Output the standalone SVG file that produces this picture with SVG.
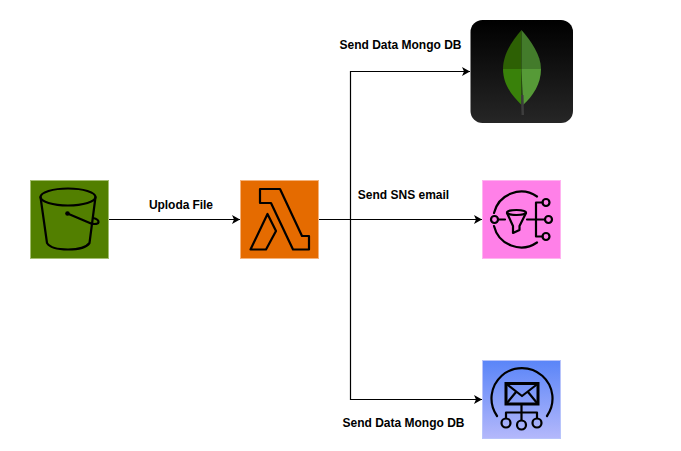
<svg xmlns="http://www.w3.org/2000/svg" width="681" height="451" viewBox="0 0 681 451">
<style>
.lbl{font-family:"Liberation Sans",Arial,sans-serif;font-size:12px;font-weight:bold;fill:#000}
.ic{fill:none;stroke:#000;stroke-width:2.200;stroke-linejoin:round;stroke-linecap:round}
.con{fill:none;stroke:#000;stroke-width:1.200}
</style>
<defs>
<marker id="arr" markerUnits="userSpaceOnUse" markerWidth="10" markerHeight="10" refX="8" refY="4.500" orient="auto"><path d="M0 0L8 4.500L0 9L2 4.500Z" fill="#000"/></marker>
<linearGradient id="mg" x1="0" y1="0" x2="0" y2="1"><stop offset="0" stop-color="#000"/><stop offset="1" stop-color="#262626"/></linearGradient>
<linearGradient id="bl" x1="0" y1="0" x2="0" y2="1"><stop offset="0" stop-color="#5a85f8"/><stop offset="1" stop-color="#b4b8fb"/></linearGradient>
</defs>
<g id="connectors">
<path class="con" marker-end="url(#arr)" d="M109 219.500H240"/>
<path class="con" marker-end="url(#arr)" d="M319 219.500H482"/>
<path class="con" marker-end="url(#arr)" d="M350.500 219.500V71.500H470"/>
<path class="con" marker-end="url(#arr)" d="M350.500 219.500V399.500H482"/>
</g>
<g id="s3">
<rect x="30.500" y="180.500" width="78" height="78" fill="#527f00" stroke="#a3bd70"/>
<ellipse class="ic" cx="68" cy="197" rx="27.500" ry="8.500"/>
<path class="ic" d="M40.500 197L47 243C50 248 60 249.500 68 249.500C77 249.500 86 248 89.500 243L95.500 197"/>
<path class="ic" d="M67.500 213.500L91 223.500C95 224.500 98.500 224 98.500 222C98.500 220 95.500 218.500 93 218"/>
<circle cx="67.500" cy="213.500" r="2.300" fill="#000"/>
</g>
<g id="lambda">
<rect x="240.500" y="180.500" width="78" height="78" fill="#e56b00" stroke="#f5b27a"/>
<path class="ic" d="M260 189H280L302 236H309V249.500H293L271 203H260Z"/>
<path class="ic" d="M267.500 214L276 231L266 249.500H250.500Z"/>
</g>
<g id="mongodb">
<rect x="470.500" y="20" width="102.500" height="103" rx="12" fill="url(#mg)"/>
<path d="M521.500 30C512 41 503 54 503 69H521.500Z" fill="#2d6004"/>
<path d="M521.500 30C531 41 541 55 541 69H521.500Z" fill="#437b2b"/>
<path d="M503 69C503 85 513 97 521.500 105V69Z" fill="#39810a"/>
<path d="M541 69C541 84 533 96 523 105L521.500 69Z" fill="#569a37"/>
<path d="M521 95L523.500 95L524 115H521.500Z" fill="#3d3d3d"/>
</g>
<g id="sns-filter">
<rect x="482.500" y="180.500" width="78" height="78" fill="#ff80e8" stroke="#ffb3f0"/>
<path class="ic" d="M537 196.500A28 28 0 0 0 494 213"/>
<path class="ic" d="M494 226A28 28 0 0 0 537 242.500"/>
<circle class="ic" cx="494.500" cy="219.500" r="3.500"/>
<path class="ic" d="M498 219.500H505M527 219.500H545M536 202.500V236.500M536 202.500H542.500M536 236.500H542.500"/>
<ellipse class="ic" cx="516.500" cy="212.500" rx="9.500" ry="2.500"/>
<path class="ic" d="M507 213L513 226V233L519.500 230V226L526 213"/>
<circle class="ic" cx="546" cy="202.500" r="3.500"/>
<circle class="ic" cx="548.500" cy="219.500" r="3.500"/>
<circle class="ic" cx="546" cy="236.500" r="3.500"/>
</g>
<g id="sns-topic">
<rect x="482.500" y="360.500" width="78" height="78" fill="url(#bl)" stroke="#b8c4fb"/>
<path class="ic" d="M497 416A30.500 30.500 0 1 1 547 416"/>
<rect x="506" y="383.500" width="32" height="20.500" fill="none" stroke="#000" stroke-width="3"/>
<path class="ic" d="M506.500 384L522 396L537.500 384M507 403L516 392M537 403L528 392"/>
<path class="ic" d="M521.500 404V412.500M506 418V412.500H537V418M521.500 412.500V420"/>
<circle class="ic" cx="506" cy="423" r="4.500"/>
<circle class="ic" cx="521.500" cy="425" r="4.500"/>
<circle class="ic" cx="537" cy="423" r="4.500"/>
</g>
<g id="labels">
<text class="lbl" x="400.500" y="49" text-anchor="middle">Send Data Mongo DB</text>
<text class="lbl" x="181" y="208.500" text-anchor="middle" textLength="64">Uploda File</text>
<text class="lbl" x="403.500" y="198.500" text-anchor="middle">Send SNS email</text>
<text class="lbl" x="403.500" y="426.500" text-anchor="middle">Send Data Mongo DB</text>
</g>
</svg>
